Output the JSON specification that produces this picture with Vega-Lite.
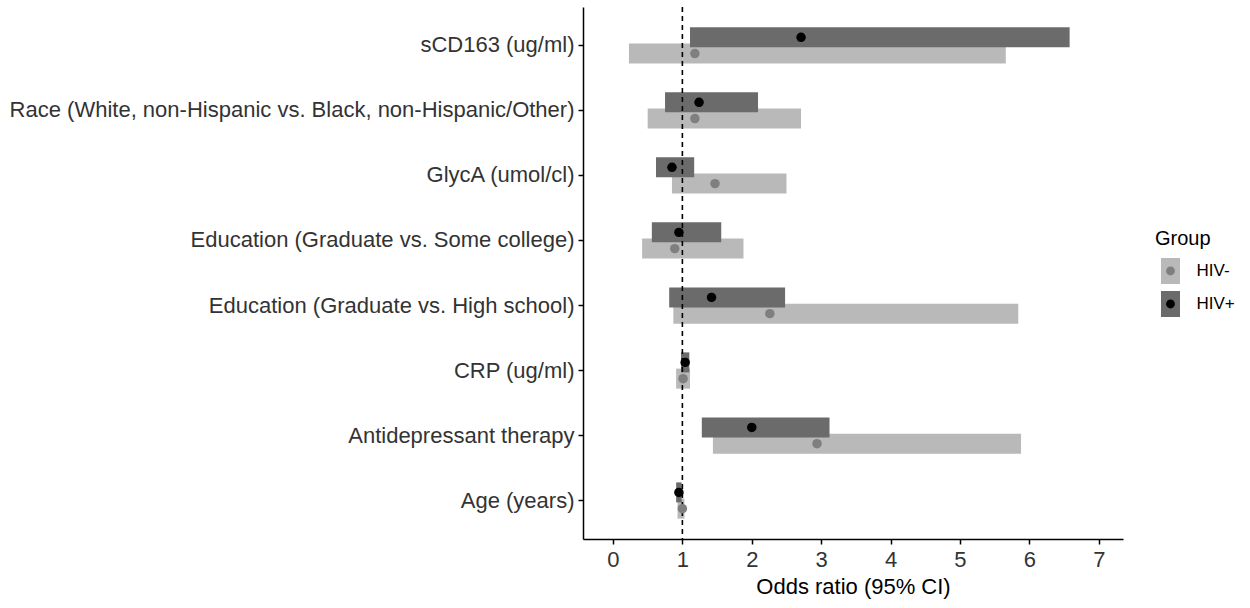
{
  "$schema": "https://vega.github.io/schema/vega-lite/v6.json",
  "width": 540,
  "height": 532,
  "autosize": "none",
  "padding": {"left": 583, "top": 7, "right": 127, "bottom": 69},
  "background": "white",
  "config": {"font": "Liberation Sans", "view": {"stroke": null}},
  "datasets": {
    "or": [
      {"variable": "sCD163 (ug/ml)", "group": "HIV-", "est": 1.18, "lo": 0.23, "hi": 5.66},
      {"variable": "Race (White, non-Hispanic vs. Black, non-Hispanic/Other)", "group": "HIV-", "est": 1.18, "lo": 0.50, "hi": 2.71},
      {"variable": "GlycA (umol/cl)", "group": "HIV-", "est": 1.47, "lo": 0.85, "hi": 2.50},
      {"variable": "Education (Graduate vs. Some college)", "group": "HIV-", "est": 0.89, "lo": 0.42, "hi": 1.88},
      {"variable": "Education (Graduate vs. High school)", "group": "HIV-", "est": 2.26, "lo": 0.87, "hi": 5.84},
      {"variable": "CRP (ug/ml)", "group": "HIV-", "est": 1.01, "lo": 0.91, "hi": 1.11},
      {"variable": "Antidepressant therapy", "group": "HIV-", "est": 2.94, "lo": 1.44, "hi": 5.88},
      {"variable": "Age (years)", "group": "HIV-", "est": 1.00, "lo": 0.93, "hi": 1.03},
      {"variable": "sCD163 (ug/ml)", "group": "HIV+", "est": 2.71, "lo": 1.11, "hi": 6.58},
      {"variable": "Race (White, non-Hispanic vs. Black, non-Hispanic/Other)", "group": "HIV+", "est": 1.24, "lo": 0.75, "hi": 2.09},
      {"variable": "GlycA (umol/cl)", "group": "HIV+", "est": 0.85, "lo": 0.62, "hi": 1.17},
      {"variable": "Education (Graduate vs. Some college)", "group": "HIV+", "est": 0.95, "lo": 0.56, "hi": 1.56},
      {"variable": "Education (Graduate vs. High school)", "group": "HIV+", "est": 1.42, "lo": 0.81, "hi": 2.48},
      {"variable": "CRP (ug/ml)", "group": "HIV+", "est": 1.04, "lo": 0.98, "hi": 1.10},
      {"variable": "Antidepressant therapy", "group": "HIV+", "est": 2.00, "lo": 1.28, "hi": 3.12},
      {"variable": "Age (years)", "group": "HIV+", "est": 0.95, "lo": 0.91, "hi": 0.99}
    ],
    "ref": [{"value": 1}]
  },
  "layer": [
    {
      "data": {"name": "or"},
      "mark": {"type": "bar", "height": 20},
      "encoding": {
        "y": {
          "field": "variable", "type": "nominal",
          "sort": ["sCD163 (ug/ml)", "Race (White, non-Hispanic vs. Black, non-Hispanic/Other)", "GlycA (umol/cl)", "Education (Graduate vs. Some college)", "Education (Graduate vs. High school)", "CRP (ug/ml)", "Antidepressant therapy", "Age (years)"],
          "scale": {"paddingInner": 0, "paddingOuter": 0.092},
          "axis": {"title": null, "labelFontSize": 22, "labelColor": "#333333", "labelLimit": 800, "tickSize": 5, "tickColor": "black", "tickWidth": 1.5, "domainColor": "black", "domainWidth": 1.5, "labelPadding": 4, "grid": false}
        },
        "yOffset": {"field": "group", "type": "nominal", "scale": {"domain": ["HIV+", "HIV-"], "paddingInner": 0, "paddingOuter": 1.03}},
        "x": {
          "field": "lo", "type": "quantitative",
          "scale": {"domain": [-0.432, 7.349], "nice": false, "zero": false},
          "axis": {"values": [0, 1, 2, 3, 4, 5, 6, 7], "format": "d", "title": "Odds ratio (95% CI)", "titleFontSize": 22, "titleFontWeight": "normal", "titleColor": "black", "titlePadding": 6, "labelFontSize": 22, "labelColor": "#333333", "labelPadding": 5, "tickSize": 5, "tickColor": "black", "tickWidth": 1.5, "domainColor": "black", "domainWidth": 1.5, "grid": false}
        },
        "x2": {"field": "hi"},
        "color": {
          "field": "group", "type": "nominal",
          "scale": {"domain": ["HIV-", "HIV+"], "range": ["#b9b9b9", "#6b6b6b"]},
          "legend": {"title": "Group", "orient": "none", "direction": "vertical", "legendX": 572, "legendY": 222, "symbolType": "M-0.73,-1H0.73V1H-0.73Z", "symbolSize": 676, "symbolStrokeWidth": 0, "symbolStrokeColor": "transparent", "symbolOffset": 2.5, "labelFontSize": 17, "labelColor": "black", "labelOffset": 13, "titleFontSize": 20, "titleFontWeight": "normal", "titleColor": "black", "titlePadding": 9, "rowPadding": 7}
        }
      }
    },
    {
      "data": {"name": "ref"},
      "mark": {"type": "rule", "color": "black", "strokeWidth": 1.6, "strokeDash": [5, 4]},
      "encoding": {"x": {"field": "value", "type": "quantitative"}}
    },
    {
      "data": {"name": "or"},
      "mark": {"type": "circle", "size": 90, "opacity": 1},
      "encoding": {
        "y": {"field": "variable", "type": "nominal", "sort": ["sCD163 (ug/ml)", "Race (White, non-Hispanic vs. Black, non-Hispanic/Other)", "GlycA (umol/cl)", "Education (Graduate vs. Some college)", "Education (Graduate vs. High school)", "CRP (ug/ml)", "Antidepressant therapy", "Age (years)"]},
        "yOffset": {"field": "group", "type": "nominal", "scale": {"domain": ["HIV+", "HIV-"], "paddingInner": 0, "paddingOuter": 1.03}},
        "x": {"field": "est", "type": "quantitative"},
        "color": {
          "field": "group", "type": "nominal",
          "scale": {"domain": ["HIV-", "HIV+"], "range": ["#7f7f7f", "#000000"]},
          "legend": {"title": "Group", "orient": "none", "direction": "vertical", "legendX": 572, "legendY": 222, "symbolType": "M-0.73,-1M0.73,1M0.34,0A0.34,0.34,0,1,1,-0.34,0A0.34,0.34,0,1,1,0.34,0Z", "symbolSize": 676, "symbolStrokeWidth": 0, "symbolStrokeColor": "transparent", "symbolOffset": 2.5, "labelFontSize": 17, "labelColor": "transparent", "labelOffset": 13, "titleFontSize": 20, "titleFontWeight": "normal", "titleColor": "transparent", "titlePadding": 9, "rowPadding": 7}
        }
      }
    }
  ],
  "resolve": {"scale": {"color": "independent"}}
}
